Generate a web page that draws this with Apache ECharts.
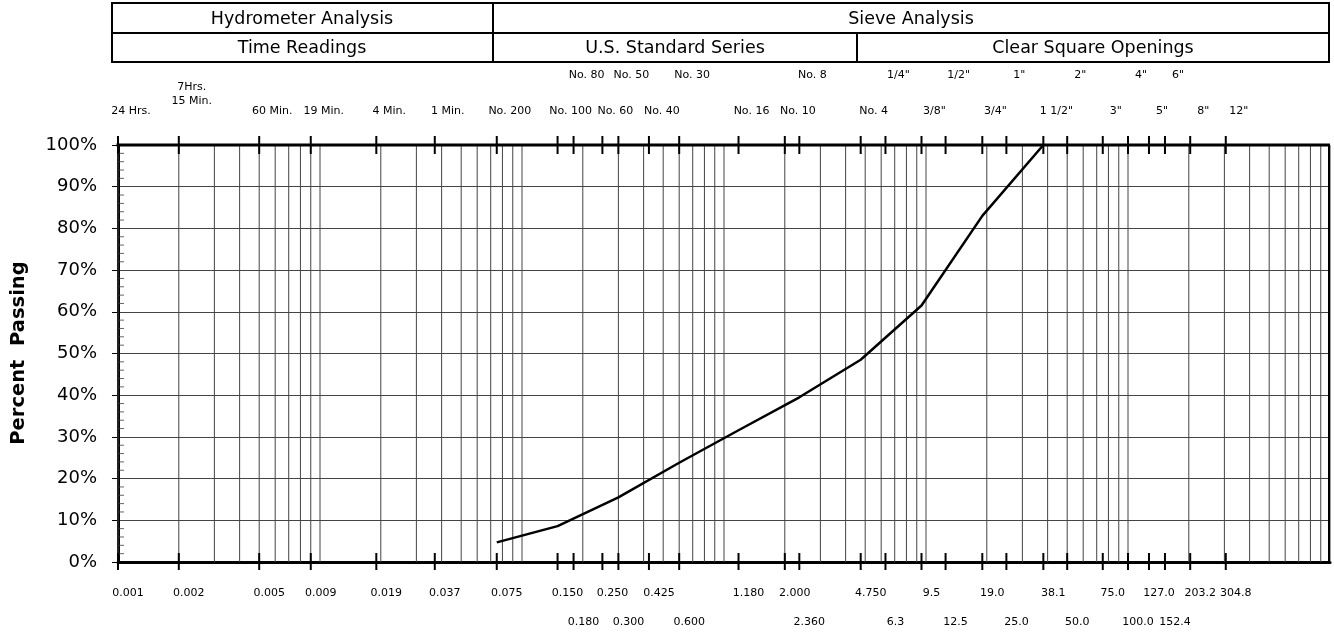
<!DOCTYPE html>
<html>
<head>
<meta charset="utf-8">
<script src="https://cdn.jsdelivr.net/npm/echarts@6/dist/echarts.min.js"></script>
<style>html,body{margin:0;padding:0;background:#fff}#c{width:1334px;height:634px}</style>
</head>
<body>
<div id="c"></div>
<script>
// ---- data ----
const sieveSizes = [0.001, 0.002, 0.005, 0.009, 0.019, 0.037, 0.075, 0.150, 0.180, 0.250, 0.300, 0.425, 0.600,
  1.180, 2.000, 2.360, 4.750, 6.3, 9.5, 12.5, 19.0, 25.0, 38.1, 50.0, 75.0, 100.0, 127.0, 152.4, 203.2, 304.8];
const sizeLabels = ['0.001', '0.002', '0.005', '0.009', '0.019', '0.037', '0.075', '0.150', '0.180', '0.250', '0.300', '0.425', '0.600',
  '1.180', '2.000', '2.360', '4.750', '6.3', '9.5', '12.5', '19.0', '25.0', '38.1', '50.0', '75.0', '100.0', '127.0', '152.4', '203.2', '304.8'];
const sieveNames = ['24 Hrs.', '7Hrs.\n15 Min.', '60 Min.', '19 Min.', '4 Min.', '1 Min.', 'No. 200', 'No. 100', 'No. 80', 'No. 60', 'No. 50', 'No. 40', 'No. 30',
  'No. 16', 'No. 10', 'No. 8', 'No. 4', '1/4"', '3/8"', '1/2"', '3/4"', '1"', '1 1/2"', '2"', '3"', '4"', '5"', '6"', '8"', '12"'];
const staggeredSizes = [0.180, 0.300, 0.600, 2.360, 6.3, 12.5, 25.0, 50.0, 100.0, 152.4];
const passingSizes = [0.075, 0.150, 0.300, 0.600, 1.180, 2.360, 4.750, 9.5, 19.0, 38.1];
const percentPassing = [4.7, 8.6, 15.5, 23.8, 31.6, 39.5, 48.5, 61.5, 83.0, 100];
const headerTop = ['Hydrometer Analysis', 'Sieve Analysis'];
const headerSub = ['Time Readings', 'U.S. Standard Series', 'Clear Square Openings'];
const yAxisTitle = 'Percent  Passing';

// log grid line values (1..9 x 10^k)
const gridVals = [];
for (let k = -3; k <= 2; k++) {
  for (let m = 1; m <= 9; m++) gridVals.push(parseFloat((m * Math.pow(10, k)).toPrecision(6)));
}
gridVals.push(1000);
const minorPct = [];
for (let p = 2; p < 100; p += 2) if (p % 10 !== 0) minorPct.push(p);

const FONT = '"DejaVu Sans", Arial, sans-serif';
const chart = echarts.init(document.getElementById('c'), null, {renderer: 'canvas'});

const option = {
  animation: false,
  backgroundColor: '#fff',
  grid: {left: 118, right: 4, top: 145, bottom: 72, containLabel: false},
  xAxis: {
    type: 'log', logBase: 10, min: 0.001, max: 1000,
    axisLine: {show: true, onZero: false, lineStyle: {color: '#000', width: 3}},
    axisTick: {show: false}, axisLabel: {show: false}, splitLine: {show: false}
  },
  yAxis: {
    type: 'value', min: 0, max: 100, interval: 10,
    axisLine: {show: true, lineStyle: {color: '#000', width: 3}},
    axisTick: {show: true, length: 6, lineStyle: {color: '#000', width: 1}},
    axisLabel: {formatter: '{value}%', fontFamily: FONT, fontSize: 18, color: '#000', margin: 21},
    splitLine: {show: true, lineStyle: {color: '#444', width: 1}}
  },
  graphic: [
    {type: 'rect', shape: {x: 112, y: 3, width: 1217, height: 59}, style: {fill: 'none', stroke: '#000', lineWidth: 2}},
    {type: 'line', shape: {x1: 112, y1: 33, x2: 1329, y2: 33}, style: {stroke: '#000', lineWidth: 2}},
    {type: 'line', shape: {x1: 493, y1: 3, x2: 493, y2: 62}, style: {stroke: '#000', lineWidth: 2}},
    {type: 'line', shape: {x1: 857, y1: 33, x2: 857, y2: 62}, style: {stroke: '#000', lineWidth: 2}},
    {type: 'text', x: 302, y: 19, style: {text: headerTop[0], font: '17.5px ' + FONT, fill: '#000', align: 'center', verticalAlign: 'middle'}},
    {type: 'text', x: 911, y: 19, style: {text: headerTop[1], font: '17.5px ' + FONT, fill: '#000', align: 'center', verticalAlign: 'middle'}},
    {type: 'text', x: 302, y: 48.5, style: {text: headerSub[0], font: '17.5px ' + FONT, fill: '#000', align: 'center', verticalAlign: 'middle'}},
    {type: 'text', x: 675, y: 48.5, style: {text: headerSub[1], font: '17.5px ' + FONT, fill: '#000', align: 'center', verticalAlign: 'middle'}},
    {type: 'text', x: 1093, y: 48.5, style: {text: headerSub[2], font: '17.5px ' + FONT, fill: '#000', align: 'center', verticalAlign: 'middle'}},
    {type: 'text', x: 19, y: 353, rotation: Math.PI / 2, style: {text: yAxisTitle, font: 'bold 19.5px ' + FONT, fill: '#000', align: 'center', verticalAlign: 'middle'}}
  ],
  series: [
    {
      type: 'custom', name: 'vgrid', z: 1, silent: true,
      data: gridVals.map(v => [v, 50]),
      renderItem: function (params, api) {
        const v = api.value(0);
        const a = api.coord([v, 0]), b = api.coord([v, 100]);
        return {type: 'line', shape: {x1: a[0], y1: a[1], x2: b[0], y2: b[1]}, style: {stroke: '#444', lineWidth: 1}};
      }
    },
    {
      type: 'custom', name: 'frame', z: 5, silent: true,
      data: [[1, 50]],
      renderItem: function (params, api) {
        const tl = api.coord([0.001, 100]), tr = api.coord([1000, 100]), br = api.coord([1000, 0]);
        const children = [
          {type: 'line', shape: {x1: tl[0] - 1.5, y1: tl[1], x2: tr[0], y2: tr[1]}, style: {stroke: '#000', lineWidth: 3}},
          {type: 'line', shape: {x1: tr[0] - 1, y1: tr[1], x2: br[0] - 1, y2: br[1]}, style: {stroke: '#000', lineWidth: 2}}
        ];
        minorPct.forEach(function (p) {
          const q = api.coord([0.001, p]);
          children.push({type: 'line', shape: {x1: q[0] + 1.5, y1: q[1], x2: q[0] + 6, y2: q[1]}, style: {stroke: '#666', lineWidth: 1}});
        });
        return {type: 'group', children: children};
      }
    },
    {
      type: 'custom', name: 'sieves', z: 6, silent: true, clip: false,
      data: sieveSizes.map((v, i) => [v, 50, i]),
      renderItem: function (params, api) {
        const v = api.value(0), i = api.value(2);
        const b = api.coord([v, 0]), t = api.coord([v, 100]);
        const stag = staggeredSizes.indexOf(v) >= 0;
        const name = sieveNames[i];
        const multi = name.indexOf('\n') >= 0;
        return {
          type: 'group', children: [
            {type: 'line', shape: {x1: b[0], y1: b[1] - 9, x2: b[0], y2: b[1] + 8}, style: {stroke: '#000', lineWidth: 2}},
            {type: 'line', shape: {x1: t[0], y1: t[1] - 9, x2: t[0], y2: t[1] + 9}, style: {stroke: '#000', lineWidth: 2}},
            {type: 'text', x: b[0] + 10, y: b[1] + (stag ? 60 : 31.5),
              style: {text: sizeLabels[i], font: '11px ' + FONT, fill: '#000', align: 'center', verticalAlign: 'middle'}},
            {type: 'text', x: t[0] + 13, y: t[1] - (multi ? 51 : (stag ? 70 : 33.5)),
              style: {text: name, font: '11px ' + FONT, fill: '#000', align: 'center', verticalAlign: 'middle', lineHeight: 13.5}}
          ]
        };
      }
    },
    {
      type: 'line', name: 'Passing', z: 7, symbol: 'none',
      data: passingSizes.map((x, i) => [x, percentPassing[i]]),
      lineStyle: {color: '#000', width: 2.5}
    }
  ]
};
chart.setOption(option);
</script>
</body>
</html>
